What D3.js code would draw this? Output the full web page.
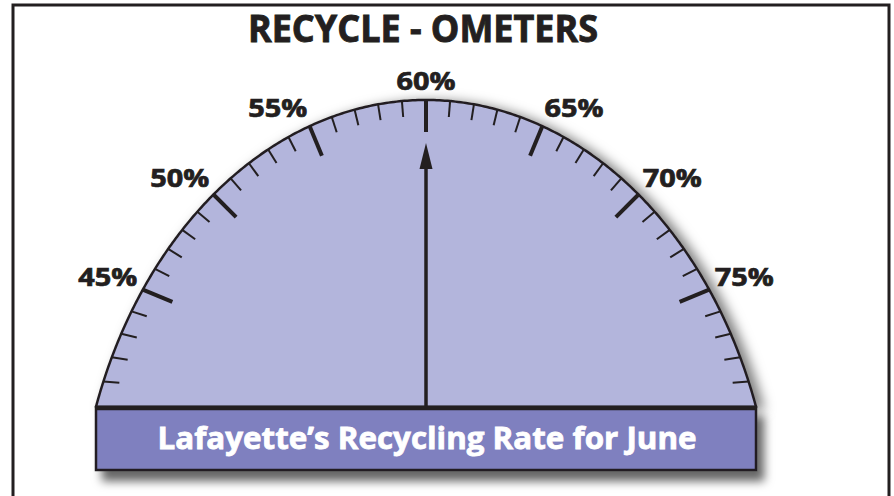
<!DOCTYPE html>
<meta charset="utf-8">

<style>
    body { margin: 0; background: #fff; }
    text {
        font-family: "Open Sans", sans-serif;
        font-weight: 700;
    }
</style>

<svg width="894" height="496"></svg>

<script src="https://cdn.jsdelivr.net/npm/d3@7"></script>
<script>
    // gauge values
    var gaugeMin = 40,
        gaugeMax = 80,
        reading = 60,
        majorTicks = [45, 50, 55, 60, 65, 70, 75],
        tickLabels = ["45%", "50%", "55%", "60%", "65%", "70%", "75%"],
        titleText = "RECYCLE - OMETERS",
        bannerText = "Lafayette\u2019s Recycling Rate for June";

    (function () {
        var svg = d3.select("svg"),
            ink = "#231f20",
            cx = 426, cy = 407,            // pivot of the needle
            ex = 350, ey = 460, ecy = 560, // outline is an ellipse arc
            angle = d3.scaleLinear().domain([gaugeMin, gaugeMax]).range([-90, 90]),
            rad = Math.PI / 180;

        // distance from pivot to outline along a ray
        function reach(phi) {
            var s = Math.sin(phi * rad), c = Math.cos(phi * rad), e = cy - ecy,
                A = s * s / (ex * ex) + c * c / (ey * ey),
                B = -2 * e * c / (ey * ey),
                C = e * e / (ey * ey) - 1;
            return (-B + Math.sqrt(B * B - 4 * A * C)) / (2 * A);
        }
        function pt(phi, r) {
            return [cx + r * Math.sin(phi * rad), cy - r * Math.cos(phi * rad)];
        }

        var defs = svg.append("defs");
        var f1 = defs.append("filter").attr("id", "archShadow")
            .attr("x", "-10%").attr("y", "-10%").attr("width", "120%").attr("height", "120%");
        f1.append("feDropShadow").attr("dx", 7).attr("dy", 2).attr("stdDeviation", 6)
            .attr("flood-color", "#000").attr("flood-opacity", 0.5);
        var f2 = defs.append("filter").attr("id", "boxShadow")
            .attr("x", "-10%").attr("y", "-30%").attr("width", "120%").attr("height", "170%");
        f2.append("feDropShadow").attr("dx", 7).attr("dy", 10).attr("stdDeviation", 5)
            .attr("flood-color", "#000").attr("flood-opacity", 0.6);

        // frame
        svg.append("path")
            .attr("d", "M13,500V5H889V500")
            .attr("fill", "none").attr("stroke", ink).attr("stroke-width", 3);

        svg.append("text")
            .attr("x", 423).attr("y", 42)
            .attr("text-anchor", "middle")
            .attr("font-size", 37)
            .attr("textLength", 350).attr("lengthAdjust", "spacingAndGlyphs")
            .attr("fill", ink).attr("stroke", ink).attr("stroke-width", 0.9)
            .text(titleText);

        // arch
        var outline = d3.line()
            .x(function (d) { return pt(d, reach(d))[0]; })
            .y(function (d) { return pt(d, reach(d))[1]; });
        svg.append("path")
            .attr("d", outline(d3.range(-90, 90.5, 0.5)) + "Z")
            .attr("fill", "#b3b5dc")
            .attr("stroke", ink).attr("stroke-width", 2.5)
            .attr("stroke-linejoin", "round")
            .attr("filter", "url(#archShadow)");

        // ticks
        var minorTicks = angle.ticks(40).filter(function (v) {
            return v > gaugeMin && v < gaugeMax && majorTicks.indexOf(v) < 0;
        });
        function tickLine(v, len) {
            var phi = angle(v), r = reach(phi),
                a = pt(phi, r), b = pt(phi, r - len);
            return "M" + a + "L" + b;
        }
        svg.append("g").selectAll("path")
            .data(minorTicks).enter().append("path")
            .attr("d", function (d) { return tickLine(d, 16); })
            .attr("stroke", ink).attr("stroke-width", 2);
        svg.append("g").selectAll("path")
            .data(majorTicks).enter().append("path")
            .attr("d", function (d) { return tickLine(d, 32); })
            .attr("stroke", ink).attr("stroke-width", 4);

        // tick labels
        svg.append("g").selectAll("text")
            .data(majorTicks).enter().append("text")
            .each(function (d, i) {
                var phi = angle(d), r = reach(phi),
                    p = pt(phi, r),
                    x = p[0] + Math.sin(phi * rad) * 6,
                    y = p[1] - Math.cos(phi * rad) * 10;
                d3.select(this)
                    .attr("x", x).attr("y", y)
                    .attr("text-anchor", phi < 0 ? "end" : phi > 0 ? "start" : "middle")
                    .attr("font-size", 25)
                    .attr("textLength", 59).attr("lengthAdjust", "spacingAndGlyphs")
                    .attr("fill", ink).attr("stroke", ink).attr("stroke-width", 0.7)
                    .text(tickLabels[i]);
            });

        // needle
        var phiR = angle(reading),
            tip = pt(phiR, reach(phiR) - 43),
            neck = pt(phiR, reach(phiR) - 69),
            nx = Math.cos(phiR * rad) * 6.5, ny = Math.sin(phiR * rad) * 6.5;
        svg.append("path")
            .attr("d", "M" + [cx, cy] + "L" + neck)
            .attr("stroke", ink).attr("stroke-width", 3.5);
        svg.append("path")
            .attr("d", "M" + tip + "L" + [neck[0] - nx, neck[1] - ny] +
                "L" + [neck[0] + nx, neck[1] + ny] + "Z")
            .attr("fill", ink);

        // banner
        svg.append("rect")
            .attr("x", 96).attr("y", 407).attr("width", 660).attr("height", 63)
            .attr("fill", "#7f80bf")
            .attr("stroke", ink).attr("stroke-width", 2.5)
            .attr("filter", "url(#boxShadow)");
        svg.append("line")
            .attr("x1", 95).attr("x2", 757).attr("y1", 408).attr("y2", 408)
            .attr("stroke", ink).attr("stroke-width", 4.5);
        svg.append("text")
            .attr("x", 427).attr("y", 449)
            .attr("text-anchor", "middle")
            .attr("font-size", 31)
            .attr("textLength", 539).attr("lengthAdjust", "spacingAndGlyphs")
            .attr("fill", "#fff").attr("stroke", "#fff").attr("stroke-width", 0.8)
            .text(bannerText);
    })();
</script>
